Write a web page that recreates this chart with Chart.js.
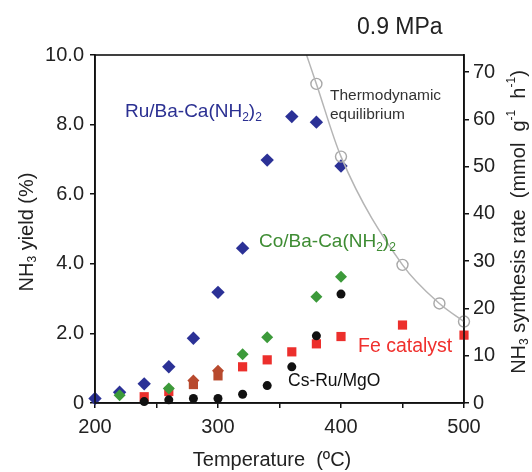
<!DOCTYPE html>
<html>
<head>
<meta charset="utf-8">
<script src="https://cdn.jsdelivr.net/npm/chart.js@4.4.0/dist/chart.umd.min.js"></script>
<style>
  body { margin: 0; background: #fff; }
</style>
</head>
<body>
<canvas id="myChart" width="532" height="472"></canvas>
<script>
// values (temperature in degC, NH3 yield in %)
const ruTemps = [200, 220, 240, 260, 280, 300, 320, 340, 360, 380, 400];
const ruYield = [0.13, 0.31, 0.55, 1.04, 1.86, 3.18, 4.45, 6.98, 8.23, 8.07, 6.81];

const coTemps = [220, 260, 280, 300, 320, 340, 380, 400];
const coYield = [0.22, 0.42, 0.65, 0.93, 1.40, 1.89, 3.05, 3.63];

const feTemps = [240, 260, 280, 300, 320, 340, 360, 380, 400, 450, 500];
const feYield = [0.18, 0.33, 0.53, 0.78, 1.04, 1.24, 1.47, 1.70, 1.91, 2.24, 1.95];

const csTemps = [240, 260, 280, 300, 320, 340, 360, 380, 400];
const csYield = [0.04, 0.09, 0.13, 0.13, 0.25, 0.50, 1.04, 1.93, 3.13];

// thermodynamic equilibrium (circles + the curve through them)
const eqTemps = [380, 400, 450, 480, 500];
const eqYield = [9.17, 7.08, 3.97, 2.86, 2.34];
const eqLineTemps = [372, 380, 400, 450, 480, 500];
const eqLineYield = [10.0, 9.17, 7.08, 3.97, 2.86, 2.34];

// axis ticks
const xTicks = [200, 300, 400, 500];
const yTicks = ['0', '2.0', '4.0', '6.0', '8.0', '10.0'];
const rateMax = 73.6;   // right axis top, same height as 10.0 % on the left

const toPoints = (xs, ys) => xs.map((x, i) => ({ x: x, y: ys[i] }));

// points where the red square and green diamond overlap show up brown
const brown = '#b84a2e';
const coColors = coTemps.map(t => (t === 280 || t === 300) ? brown : '#3c9a3a');
const feColors = feTemps.map(t => (t === 280 || t === 300) ? brown : '#ec2f2c');

const FONT = "'Liberation Sans', Arial, sans-serif";

// draws text with sub/superscript pieces: parts = [[text, 'n'|'sub'|'sup'], ...]
const richWidth = (ctx, parts, size) => {
  let w = 0;
  parts.forEach(([t, k]) => {
    ctx.font = (k === 'n' ? size : Math.round(size * 0.62)) + 'px ' + FONT;
    w += ctx.measureText(t).width;
  });
  return w;
}

const drawRich = (ctx, parts, x, y, size, color) => {
  ctx.fillStyle = color;
  ctx.textBaseline = 'middle';
  ctx.textAlign = 'left';
  let cx = x;
  parts.forEach(([t, k]) => {
    let dy = 0;
    if (k === 'n') {
      ctx.font = size + 'px ' + FONT;
    } else {
      ctx.font = Math.round(size * 0.62) + 'px ' + FONT;
      dy = k === 'sub' ? size * 0.3 : -size * 0.35;
    }
    ctx.fillText(t, cx, y + dy);
    cx += ctx.measureText(t).width;
  });
}

const labelsPlugin = {
  id: 'labels',
  afterDraw(chart) {
    const ctx = chart.ctx;
    const a = chart.chartArea;
    ctx.save();

    // frame round the plot
    ctx.strokeStyle = '#111';
    ctx.lineWidth = 1.6;
    ctx.strokeRect(a.left, a.top, a.right - a.left, a.bottom - a.top);

    drawRich(ctx, [['0.9 MPa', 'n']], 357, 28, 23, '#222');
    drawRich(ctx, [['Ru/Ba-Ca(NH', 'n'], ['2', 'sub'], [')', 'n'], ['2', 'sub']], 125, 112, 19, '#2b3092');
    drawRich(ctx, [['Thermodynamic', 'n']], 330, 96, 15.5, '#333');
    drawRich(ctx, [['equilibrium', 'n']], 330, 115, 15.5, '#333');
    drawRich(ctx, [['Co/Ba-Ca(NH', 'n'], ['2', 'sub'], [')', 'n'], ['2', 'sub']], 259, 242, 19, '#3e8c33');
    drawRich(ctx, [['Fe catalyst', 'n']], 358, 347, 19.5, '#f0302d');
    drawRich(ctx, [['Cs-Ru/MgO', 'n']], 288, 381, 17.5, '#111');

    // x axis title
    const xt = [['Temperature  (\u00baC)', 'n']];
    drawRich(ctx, xt, 272 - richWidth(ctx, xt, 20) / 2, 460, 20, '#222');

    // left axis title, rotated
    const lt = [['NH', 'n'], ['3', 'sub'], [' yield (%)', 'n']];
    ctx.save();
    ctx.translate(27, 232);
    ctx.rotate(-Math.PI / 2);
    drawRich(ctx, lt, -richWidth(ctx, lt, 20) / 2, 0, 20, '#222');
    ctx.restore();

    // right axis title, rotated the same way
    const rt = [['NH', 'n'], ['3', 'sub'], [' synthesis rate  (mmol  g', 'n'], ['-1', 'sup'], ['  h', 'n'], ['-1', 'sup'], [')', 'n']];
    ctx.save();
    ctx.translate(519, 222);
    ctx.rotate(-Math.PI / 2);
    drawRich(ctx, rt, -richWidth(ctx, rt, 20) / 2, 0, 20, '#222');
    ctx.restore();

    ctx.restore();
  }
};

const tickFont = { family: FONT, size: 20 };

const elem = document.getElementById('myChart').getContext('2d');
const chart = new Chart(elem, {
  type: 'scatter',
  data: {
    datasets: [
      {
        label: 'equilibrium line',
        type: 'line',
        data: toPoints(eqLineTemps, eqLineYield),
        borderColor: '#b5b5b5',
        borderWidth: 1.5,
        pointRadius: 0,
        fill: false,
        cubicInterpolationMode: 'monotone',
      },
      {
        label: 'equilibrium',
        data: toPoints(eqTemps, eqYield),
        clip: false,
        pointStyle: 'circle',
        pointRadius: 5.5,
        pointBackgroundColor: 'rgba(255,255,255,0)',
        pointBorderColor: '#a8a8a8',
        pointBorderWidth: 1.4,
      },
      {
        label: 'Cs-Ru/MgO',
        data: toPoints(csTemps, csYield),
        clip: false,
        pointStyle: 'circle',
        pointRadius: 4.5,
        pointBackgroundColor: '#111',
        pointBorderColor: '#111',
        pointBorderWidth: 0,
      },
      {
        label: 'Co/Ba-Ca(NH2)2',
        data: toPoints(coTemps, coYield),
        clip: false,
        pointStyle: 'rectRot',
        pointRadius: 6,
        pointBackgroundColor: coColors,
        pointBorderColor: coColors,
        pointBorderWidth: 0,
      },
      {
        label: 'Fe catalyst',
        data: toPoints(feTemps, feYield),
        clip: false,
        pointStyle: 'rect',
        pointRadius: 6.5,
        pointBackgroundColor: feColors,
        pointBorderColor: feColors,
        pointBorderWidth: 0,
      },
      {
        label: 'Ru/Ba-Ca(NH2)2',
        data: toPoints(ruTemps, ruYield),
        clip: false,
        pointStyle: 'rectRot',
        pointRadius: 6.7,
        pointBackgroundColor: '#2b3196',
        pointBorderColor: '#2b3196',
        pointBorderWidth: 0,
      },
    ]
  },
  options: {
    responsive: false,
    animation: false,
    layout: { padding: { top: 55, left: 0, right: 0, bottom: 0 } },
    plugins: {
      legend: { display: false },
      tooltip: { enabled: false },
    },
    scales: {
      x: {
        type: 'linear',
        min: 200,
        max: 500,
        afterFit: (s) => { s.height = 69; },
        ticks: {
          stepSize: 50,
          padding: 7,
          color: '#222',
          font: tickFont,
          maxRotation: 0,
          callback: (v) => xTicks.includes(v) ? String(v) : '',
        },
        grid: { drawOnChartArea: false, drawTicks: true, tickLength: 5, color: '#111', lineWidth: 1.5 },
        border: { display: true, color: '#111', width: 1.6 },
      },
      y: {
        type: 'linear',
        position: 'left',
        min: 0,
        max: 10,
        afterFit: (s) => { s.width = 95; },
        ticks: {
          stepSize: 2,
          padding: 6,
          color: '#222',
          font: tickFont,
          callback: (v) => yTicks[Math.round(v / 2)],
        },
        grid: { drawOnChartArea: false, drawTicks: true, tickLength: 5, color: '#111', lineWidth: 1.5 },
        border: { display: true, color: '#111', width: 1.6 },
      },
      y2: {
        type: 'linear',
        position: 'right',
        min: 0,
        max: rateMax,
        afterFit: (s) => { s.width = 68; },
        ticks: {
          stepSize: 10,
          includeBounds: false,
          padding: 4,
          color: '#222',
          font: tickFont,
        },
        grid: { drawOnChartArea: false, drawTicks: true, tickLength: 5, color: '#111', lineWidth: 1.5 },
        border: { display: true, color: '#111', width: 1.6 },
      },
    }
  },
  plugins: [labelsPlugin]
});
</script>
</body>
</html>
